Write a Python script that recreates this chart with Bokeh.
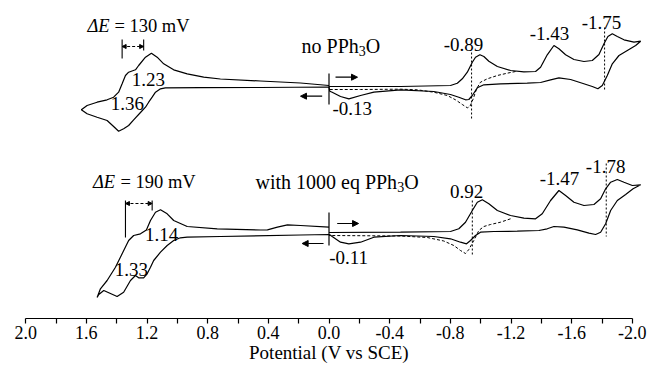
from bokeh.plotting import figure
from bokeh.models import Range1d, FixedTicker, Label, Arrow, NormalHead
from bokeh.embed import file_html
from bokeh.resources import INLINE

# ---------------- data (potential in V vs SCE, current in arbitrary units) ----------------
# Top trace: "no PPh3O"  (0 -> -2.05 -> 0 -> +1.63 -> 0)
E_top = [0.00, -0.208, -0.472, -0.801, -0.846, -0.879, -0.912, -0.945, -0.966, -0.995,
         -1.021, -1.054, -1.110, -1.197, -1.285, -1.362, -1.395, -1.439, -1.483, -1.516,
         -1.560, -1.615, -1.681, -1.736, -1.780, -1.813, -1.839, -1.868, -1.901, -1.945,
         -2.011, -2.055,
         -2.022, -1.967, -1.912, -1.868, -1.835, -1.802, -1.773, -1.736, -1.670, -1.593,
         -1.516, -1.461, -1.395, -1.307, -1.131, -1.021, -0.978, -0.945, -0.922, -0.900,
         -0.856, -0.801, -0.691, -0.472, -0.296, -0.208, -0.131, -0.076, -0.021, -0.005,
         0.000, 0.452, 0.848, 1.079, 1.111, 1.144, 1.166, 1.189, 1.210, 1.243,
         1.288, 1.321, 1.354, 1.387, 1.420, 1.463, 1.529, 1.595, 1.633,
         1.595, 1.529, 1.463, 1.420, 1.387, 1.364, 1.342, 1.321, 1.276, 1.255,
         1.210, 1.171, 1.133, 1.090, 1.024, 0.935, 0.826, 0.716, 0.452, 0.188, 0.000]
I_top = [0, 0, 0, 1, 3.3, 7.7, 14.3, 24.3, 29.3, 31.7,
         30, 25.3, 20, 16, 14.7, 15, 19.3, 31.7, 41, 37.7,
         31.7, 27, 25, 26, 32, 42.7, 50, 52.7, 50, 46.7,
         44.3, 45.3,
         41, 36, 31, 22.7, 11, 1, -2.3, 0, 3.3, 7,
         8.7, 6.7, 4, 3.3, 2.7, 1.7, -1.3, -9, -13, -13.3,
         -10.7, -8, -5, -3.3, -5.7, -9, -12.3, -10, -5.7, -4.7,
         -0.5, -1, -1.2, -1.3, -2.3, -5.7, -10.7, -15.7, -20.7, -26,
         -33.3, -39, -42.3, -44.7, -40, -34, -30.7, -27.3, -23.3,
         -19, -15.7, -13.3, -10.7, -5.7, 2.7, 11, 14.3, 16.7, 21,
         29.3, 33.3, 29.3, 22.7, 16.7, 12.7, 9.3, 7.5, 5.5, 3.5, 1]
# Top trace, dashed return of the short scan
E_top_dash = [-1.230, -1.175, -1.110, -1.044, -0.999, -0.973, -0.951, -0.929, -0.912,
              -0.879, -0.834, -0.780, -0.691, -0.582, -0.472, -0.208, 0.000]
I_top_dash = [15, 13.3, 11, 7.7, 4.3, -2.3, -12.3, -20, -21.3,
              -18, -13.3, -9, -5.7, -3.3, -2.7, -3, -3]

# Bottom trace: "with 1000 eq PPh3O"
E_bot = [0.000, -0.472, -0.801, -0.856, -0.900, -0.945, -0.978, -1.011, -1.054, -1.110,
         -1.197, -1.285, -1.362, -1.406, -1.461, -1.516, -1.560, -1.615, -1.681, -1.747,
         -1.791, -1.824, -1.857, -1.901, -1.945, -2.000, -2.055,
         -2.005, -1.956, -1.901, -1.857, -1.824, -1.791, -1.758, -1.714, -1.637, -1.549,
         -1.483, -1.439, -1.384, -1.241, -1.087, -0.999, -0.966, -0.933, -0.907, -0.867,
         -0.801, -0.691, -0.472, -0.296, -0.208, -0.131, -0.076, -0.021, -0.005,
         0.000, 0.188, 0.716, 0.935, 0.980, 1.024, 1.067, 1.111, 1.156, 1.177,
         1.199, 1.222, 1.255, 1.276, 1.309, 1.354, 1.397, 1.441, 1.485, 1.518, 1.529,
         1.507, 1.463, 1.408, 1.364, 1.321, 1.288, 1.243, 1.204, 1.177, 1.144,
         1.111, 1.067, 1.024, 0.935, 0.737, 0.452, 0.406, 0.340, 0.274, 0.188, 0.000]
I_bot = [0, 0.3, 1, 3.7, 10.3, 22, 30.3, 32.7, 28.7, 22,
         17, 14.3, 13.7, 18.7, 32, 42, 37, 30.3, 27, 28,
         33.7, 43.7, 50.3, 53, 50.3, 47, 47.7,
         43.7, 38, 32, 22, 8.7, 0.3, -2, -0.7, 2.7, 5.3,
         6, 3.7, 2, 1.3, 1, 0.3, -3, -8, -11.3, -9.7,
         -6.3, -4, -3, -4.7, -9.7, -11.3, -9.7, -4, -2.3,
         -2, -2.5, -4, -4.7, -5.3, -8, -13, -19.7, -28, -34.7,
         -41.3, -45.3, -45.3, -43, -48, -59.7, -64, -61, -58, -62, -65,
         -56.3, -48, -34.7, -21.3, -8, -3, -1.3, 2.5, 12, 20.3,
         22.7, 18.7, 12, 6, 3.7, 2.5, 2.7, 5.3, 7.7, 7, 5.3]
E_bot_dash = [-1.197, -1.131, -1.065, -1.021, -0.988, -0.955, -0.922, -0.900, -0.867,
              -0.823, -0.757, -0.648, -0.472, 0.000]
I_bot_dash = [13.7, 10.3, 8, 6, 2, -8, -17, -21, -18,
              -13, -8.5, -5, -3.5, -3]

# Peak marker lines (potential, current extent)
mark_top_E = [-0.940, -1.817]
mark_top_I0 = [34, 59]
mark_top_I1 = [-32, -4]
mark_bot_E = [-0.945, -1.828]
mark_bot_I0 = [32, 69]
mark_bot_I1 = [-23, -4]

# Peak labels
lab_top_text = ["1.23", "1.36", "-0.13", "-0.89", "-1.43", "-1.75"]
lab_top_E = [1.191, 1.329, -0.153, -0.887, -1.454, -1.797]
lab_top_I = [7.5, -16.5, -21.5, 42, 53.5, 64.5]
lab_bot_text = ["1.14", "1.33", "-0.11", "0.92", "-1.47", "-1.78"]
lab_bot_E = [1.103, 1.303, -0.129, -0.907, -1.520, -1.824]
lab_bot_I = [-2, -37, -24.5, 41, 54.5, 66]

# Delta E brackets
dE_top = [1.364, 1.222]
dE_bot = [1.342, 1.166]

# Axis ticks
TICKS = [2.0, 1.6, 1.2, 0.8, 0.4, 0.0, -0.4, -0.8, -1.2, -1.6, -2.0]
TICK_LABELS = ["2.0", "1.6", "1.2", "0.8", "0.4", "0.0", "-0.4", "-0.8", "-1.2", "-1.6", "-2.0"]
MINOR_TICKS = [1.8, 1.4, 1.0, 0.6, 0.2, -0.2, -0.6, -1.0, -1.4, -1.8]

# ---------------- layout ----------------
OFF_TOP = 282
OFF_BOT = 136
SERIF = "Liberation Serif"

p = figure(width=655, height=368, output_backend="svg", toolbar_location=None,
           x_range=Range1d(2.1, -2.1), y_range=Range1d(50, 368),
           min_border_left=10, min_border_right=8, min_border_top=0, min_border_bottom=50,
           y_axis_location=None, background_fill_color="white")
p.outline_line_color = None
p.xgrid.visible = False
p.ygrid.visible = False

ax = p.xaxis[0]
ax.ticker = FixedTicker(ticks=TICKS, minor_ticks=MINOR_TICKS)
ax.major_label_overrides = {t: s for t, s in zip(TICKS, TICK_LABELS)}
ax.bounds = (-2.0, 2.0)
ax.major_tick_in = 0
ax.major_tick_out = 5
ax.minor_tick_in = 0
ax.minor_tick_out = 5
ax.axis_line_width = 1.2
ax.major_tick_line_width = 1.2
ax.minor_tick_line_width = 1.2
ax.axis_line_color = "black"
ax.major_tick_line_color = "black"
ax.minor_tick_line_color = "black"
ax.major_label_text_font = SERIF
ax.major_label_text_font_size = "18px"
ax.major_label_text_color = "black"
ax.major_label_standoff = 2
ax.axis_label = "Potential (V vs SCE)"
ax.axis_label_text_font = SERIF
ax.axis_label_text_font_size = "19px"
ax.axis_label_text_font_style = "normal"
ax.axis_label_text_color = "black"
ax.axis_label_standoff = 0

def sh(vals, off):
    return [v + off for v in vals]

LW = 1.2
p.line(E_top, sh(I_top, OFF_TOP), line_color="black", line_width=LW)
p.line(E_top_dash, sh(I_top_dash, OFF_TOP), line_color="black", line_width=1.0, line_dash="3 2")
p.line(E_bot, sh(I_bot, OFF_BOT), line_color="black", line_width=LW)
p.line(E_bot_dash, sh(I_bot_dash, OFF_BOT), line_color="black", line_width=1.0, line_dash="3 2")

# dotted peak markers
p.segment(mark_top_E, sh(mark_top_I0, OFF_TOP), mark_top_E, sh(mark_top_I1, OFF_TOP),
          line_color="black", line_width=1, line_dash="2 2")
p.segment(mark_bot_E, sh(mark_bot_I0, OFF_BOT), mark_bot_E, sh(mark_bot_I1, OFF_BOT),
          line_color="black", line_width=1, line_dash="2 2")

# start-potential markers
p.segment([0.0, 0.0], [13 + OFF_TOP, 20 + OFF_BOT], [0.0, 0.0], [-18 + OFF_TOP, -13 + OFF_BOT],
          line_color="black", line_width=1.2)

# Delta E bracket bars
p.segment([dE_top[0], dE_top[1], dE_bot[0], dE_bot[1]],
          [47 + OFF_TOP, 47 + OFF_TOP, 32 + OFF_BOT, 32 + OFF_BOT],
          [dE_top[0], dE_top[1], dE_bot[0], dE_bot[1]],
          [28 + OFF_TOP, 36 + OFF_TOP, -5 + OFF_BOT, 22 + OFF_BOT],
          line_color="black", line_width=1.1)

def head(s):
    return NormalHead(size=s, fill_color="black", line_color="black", line_width=1)

for y, (a, b) in [(40 + OFF_TOP, dE_top), (29 + OFF_BOT, dE_bot)]:
    p.add_layout(Arrow(start=head(4), end=head(4), x_start=a, y_start=y, x_end=b, y_end=y,
                       line_color="black", line_width=1, line_dash="3 2"))

# scan-direction arrows
for xs, xe, y in [(-0.043, -0.188, 9.3 + OFF_TOP), (0.045, 0.188, -9.7 + OFF_TOP),
                  (-0.054, -0.195, 9 + OFF_BOT), (0.036, 0.177, -11 + OFF_BOT)]:
    p.add_layout(Arrow(end=head(6), x_start=xs, y_start=y, x_end=xe, y_end=y,
                       line_color="black", line_width=1.2))

def lab(x, y, t, size="19px", align="center", style="normal", xo=0, yo=0):
    p.add_layout(Label(x=x, y=y, text=t, text_font=SERIF, text_font_size=size,
                       text_font_style=style, text_align=align, text_baseline="middle",
                       text_color="black", x_offset=xo, y_offset=yo))

for t, e, i in zip(lab_top_text, lab_top_E, lab_top_I):
    lab(e, i + OFF_TOP, t)
for t, e, i in zip(lab_bot_text, lab_bot_E, lab_bot_I):
    lab(e, i + OFF_BOT, t)

# Delta E texts
lab(1.593, 61 + OFF_TOP, "\u0394E", size="18.5px", align="left", style="italic")
lab(1.415, 61 + OFF_TOP, "= 130 mV", size="18.5px", align="left")
lab(1.556, 51 + OFF_BOT, "\u0394E", size="18.5px", align="left", style="italic")
lab(1.375, 51 + OFF_BOT, "= 190 mV", size="18.5px", align="left")

# condition labels with subscript
lab(0.181, 41 + OFF_TOP, "no PPh", size="20px", align="left")
lab(0.181, 41 + OFF_TOP, "3", size="14px", align="left", xo=57.2, yo=-5)
lab(0.181, 41 + OFF_TOP, "O", size="20px", align="left", xo=64.2)
lab(0.485, 51 + OFF_BOT, "with 1000 eq PPh", size="20px", align="left")
lab(0.485, 51 + OFF_BOT, "3", size="14px", align="left", xo=141.7, yo=-5)
lab(0.485, 51 + OFF_BOT, "O", size="20px", align="left", xo=148.7)

open("out.html", "w").write(file_html(p, INLINE))
